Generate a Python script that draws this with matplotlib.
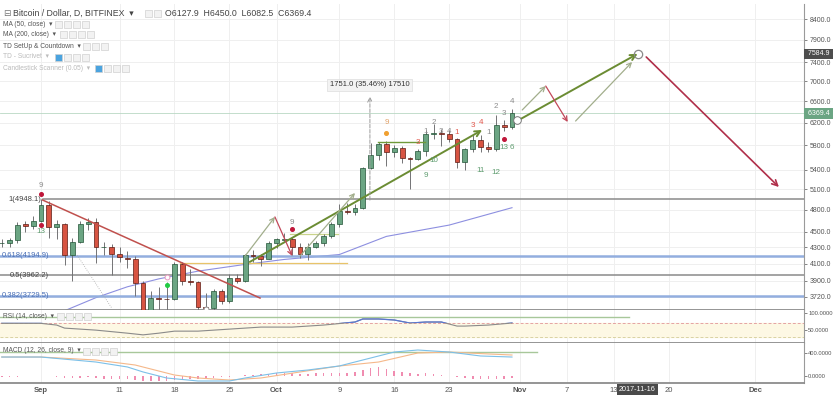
import matplotlib
matplotlib.use("Agg")
import matplotlib.pyplot as plt
from matplotlib.patches import Rectangle
import matplotlib.transforms as mtransforms
import numpy as np
import pandas as pd

plt.rcParams['font.family'] = ['Liberation Sans', 'DejaVu Sans']

# ---- daily candles, BTCUSD Bitfinex, 2017-08-27 .. 2017-10-31 ----
first_day = "2017-08-27"
opens = [4350, 4360, 4390, 4600, 4575,
         4650, 4870, 4560, 4600, 4200, 4370, 4610, 4625, 4300, 4310,
         4220, 4170, 4150, 3870, 3240, 3710, 3700, 3690, 4090, 3900,
         3880, 3610, 3600, 3780, 3670, 3930, 3890, 4200, 4190, 4160,
         4360, 4395, 4405, 4300, 4220, 4310, 4350, 4440, 4610, 4780,
         4770, 4820, 5430, 5640, 5830, 5690, 5750, 5590, 5570, 5700,
         6000, 6010, 5990, 5910, 5530, 5730, 5890, 5770, 5740, 6160, 6127.9]
highs = [4400, 4420, 4630, 4640, 4720,
         4948, 4930, 4660, 4620, 4420, 4650, 4680, 4680, 4370, 4340,
         4300, 4250, 4190, 3900, 3780, 3830, 3880, 4120, 4120, 4030,
         3900, 3760, 3800, 3800, 3980, 3980, 4220, 4270, 4220, 4380,
         4420, 4480, 4430, 4350, 4360, 4380, 4470, 4630, 4880, 4900,
         4880, 5450, 5840, 5850, 5880, 5800, 5780, 5610, 5730, 6070,
         6180, 6080, 6070, 5920, 5760, 5980, 5980, 5850, 6330, 6250, 6450.0]
lows = [4310, 4300, 4350, 4500, 4540,
        4630, 4420, 4400, 4080, 3890, 4360, 4520, 4110, 4200, 3970,
        4120, 4050, 3730, 3150, 2970, 3570, 3560, 3680, 3850, 3850,
        3560, 3560, 3580, 3640, 3650, 3870, 3880, 4120, 4070, 4150,
        4290, 4380, 4200, 4170, 4140, 4290, 4320, 4420, 4560, 4740,
        4730, 4810, 5410, 5560, 5460, 5600, 5500, 5100, 5550, 5620,
        5900, 5780, 5860, 5420, 5400, 5690, 5690, 5680, 5700, 6050, 6082.5]
closes = [4360, 4390, 4590, 4575, 4650,
          4870, 4560, 4600, 4200, 4370, 4610, 4625, 4300, 4310, 4220,
          4180, 4150, 3870, 3240, 3710, 3700, 3690, 4090, 3900, 3880,
          3610, 3600, 3780, 3670, 3930, 3890, 4200, 4190, 4160, 4360,
          4400, 4405, 4300, 4220, 4310, 4350, 4440, 4610, 4780, 4770,
          4820, 5430, 5640, 5820, 5690, 5750, 5590, 5570, 5700, 6000,
          6010, 5990, 5910, 5530, 5730, 5890, 5770, 5740, 6160, 6127.9, 6369.4]

# MA(50) readings
ma50_dates = ["2017-09-02", "2017-09-04", "2017-09-08", "2017-09-12", "2017-09-16",
              "2017-09-21", "2017-09-27", "2017-10-02", "2017-10-09", "2017-10-15",
              "2017-10-23", "2017-10-31"]
ma50_vals = [3450, 3570, 3710, 3830, 3920, 4010, 4090, 4150, 4210, 4440, 4590, 4830]

# fibonacci retracement
fib_levels = ["1", "0.618", "0.5", "0.382"]
fib_prices = [4948.1, 4194.9, 3962.2, 3729.5]

# drawings: (day0, price0, day1, price1), days counted from 2017-09-01
thick_green = [(26.6, 4120, 56.2, 6066), (61.1, 6265, 76.0, 7585)]
thin_green = [(26.0, 4192, 29.8, 4701), (33.0, 4192, 40.0, 5043),
              (61.3, 6433, 64.3, 6901), (68.1, 6228, 75.3, 7405)]
thin_red = [(29.8, 4701, 32.0, 4192), (64.3, 6901, 67.1, 6210)]
big_red = [(77.1, 7515, 94.0, 5132)]
down_trend = (0.2, 4940, 27.9, 3706)
green_hline = (42.9, 48.9, 5856)
yellow_hline = (17.7, 39.0, 4108)
olive_hline = (31.7, 37.8, 4471)
dotted_line = (4.6, 4204, 9.0, 3600)
measure = (41.9, 4939, 6690)
measure_text = "1751.0 (35.46%) 17510"
target = (76.0, 7585)

# TD setup / countdown numbers: (day, price, text)
td_grey = [(0, 5148, "9"), (32, 4619, "9"), (49, 6048, "1"), (50, 6192, "2"),
           (51, 6048, "3"), (52, 6048, "4"), (57, 6013, "1"), (58, 6490, "2"),
           (59, 6369, "3"), (60, 6586, "4")]
td_green = [(0, 4498, "13"), (50, 5539, "10"), (49, 5301, "9"), (56, 5379, "11"),
            (58, 5362, "12"), (59, 5771, "13"), (60, 5771, "6")]
td_red = [(48, 5856, "3"), (53, 6030, "1"), (55, 6138, "3"), (56, 6192, "4")]
td_orange = [(44, 6192, "9")]
red_dots = [(0, 5028), (0, 4591), (32, 4538), (59, 5909)]
orange_dots = [(44, 6013)]
green_dots = [(16, 3851)]
pink_rings = [(16, 3942)]
grey_rings = [(21, 3590)]
white_rings = [(60.6, 6246)]

# RSI(14) readings
rsi_dates = ["2017-08-27", "2017-09-01", "2017-09-03", "2017-09-04", "2017-09-08",
             "2017-09-12", "2017-09-14", "2017-09-16", "2017-09-18", "2017-09-21",
             "2017-09-25", "2017-09-29", "2017-10-03", "2017-10-07", "2017-10-11",
             "2017-10-12", "2017-10-14", "2017-10-16", "2017-10-18", "2017-10-20",
             "2017-10-22", "2017-10-24", "2017-10-25", "2017-10-28", "2017-10-31"]
rsi_vals = [69, 69, 64, 55, 49, 40, 35, 40, 46, 46, 52, 58, 58, 64, 73,
            82, 82, 79, 70, 73, 73, 61, 61, 64, 70]
rsi_trend = (-6, 74.9, 88)

# MACD(12, 26, close, 9) readings
macd_dates = ["2017-08-27", "2017-09-01", "2017-09-08", "2017-09-12", "2017-09-14",
              "2017-09-17", "2017-09-21", "2017-09-25", "2017-09-27", "2017-10-01",
              "2017-10-05", "2017-10-09", "2017-10-13", "2017-10-16", "2017-10-19",
              "2017-10-23", "2017-10-27", "2017-10-31"]
macd_vals = [330, 330, 243, 157, 70, -35, -87, -87, -35, 52, 104, 174, 313, 417,
             452, 417, 348, 330]
signal_dates = ["2017-08-27", "2017-09-01", "2017-09-08", "2017-09-13", "2017-09-18",
                "2017-09-21", "2017-09-25", "2017-09-29", "2017-10-04", "2017-10-09",
                "2017-10-14", "2017-10-19", "2017-10-23", "2017-10-28", "2017-10-31"]
signal_vals = [330, 330, 278, 191, 17, -35, -70, -35, 70, 174, 243, 400, 417, 383, 365]
hist_vals = [-10, -15, -10, -5, 0,
             5, -5, -10, -30, -35, -30, -25, -40, -45, -50,
             -55, -60, -70, -90, -90, -85, -80, -75, -60, -50,
             -45, -40, -30, -20, -15, -5, 10, 20, 30, 40,
             45, 50, 45, 40, 40, 45, 50, 55, 60, 60,
             70, 110, 140, 160, 120, 90, 70, 50, 40, 45,
             30, 15, 0, -25, -40, -45, -55, -60, -60, -50, -40]
macd_trend = (-6, 63.2, 417)

# axis ticks
price_ticks = [8400, 7900, 7400, 7000, 6600, 6200, 5800, 5400, 5100, 4800, 4500,
               4300, 4100, 3900, 3720]
date_ticks = ["2017-09-01", "2017-09-11", "2017-09-18", "2017-09-25", "2017-10-01",
              "2017-10-09", "2017-10-16", "2017-10-23", "2017-11-01", "2017-11-07",
              "2017-11-13", "2017-11-20", "2017-12-01"]
date_labels = ["Sep", "11", "18", "25", "Oct", "9", "16", "23", "Nov", "7", "13",
               "20", "Dec"]
cursor_date = "2017-11-16"
last_price_label = 7584.9

base = pd.Timestamp("2017-09-01")


def day(s):
    return (pd.Timestamp(s) - base) / pd.Timedelta(days=1)


W, H = 833, 395
fig = plt.figure(figsize=(W / 100, H / 100), dpi=100)
ax = fig.add_axes([0, 85 / H, 804 / W, 306 / H])
ax_rsi = fig.add_axes([0, 52 / H, 804 / W, 33 / H])
ax_macd = fig.add_axes([0, 12 / H, 804 / W, 40 / H])
xlim = (-41 / 7.85, (804 - 41) / 7.85)

GRID = '#efefef'
TXT = '#555555'
tick_x = [day(d) for d in date_ticks]

for a in (ax, ax_rsi, ax_macd):
    a.set_xlim(*xlim)
    for t in tick_x:
        a.axvline(t, color=GRID, lw=0.7, zorder=0)
    a.set_xticks(tick_x)
    a.tick_params(axis='x', length=0, labelbottom=False)
    for s in ('top', 'left'):
        a.spines[s].set_visible(False)
    a.spines['right'].set_color('#9a9a9a')
    a.spines['bottom'].set_color('#8c8c8c')
    a.spines['bottom'].set_linewidth(1.3)
    a.yaxis.tick_right()
    a.tick_params(axis='y', labelsize=5, colors=TXT, length=2, pad=2, width=0.5)

# ---- main price panel ----
ax.set_yscale('log')
ax.set_ylim(3578, 8778)
ax.yaxis.set_minor_locator(matplotlib.ticker.NullLocator())
ax.set_yticks(price_ticks)
ax.set_yticklabels([f"{p:.1f}" for p in price_ticks])
for p in price_ticks:
    ax.axhline(p, color=GRID, lw=0.7, zorder=0)

o = np.array(opens); hi = np.array(highs); lo = np.array(lows); c = np.array(closes)
xc = np.arange(len(o)) + day(first_day)
up = c >= o
ax.vlines(xc, lo, hi, color='#737375', lw=0.7, zorder=3)
ax.bar(xc, np.abs(c - o), bottom=np.minimum(o, c), width=0.62,
       color=np.where(up, '#6ba583', '#d75442'),
       edgecolor=np.where(up, '#225437', '#5b1a13'), linewidth=0.5, zorder=4)

# last price line
ax.axhline(closes[-1], color='#b9d8c4', lw=0.6, zorder=1)

# MA 50
ax.plot([day(d) for d in ma50_dates], ma50_vals, color='#8d8fe0', lw=0.8, zorder=2)

# fibonacci levels
for lvl, p in zip(fib_levels, fib_prices):
    blue = lvl in ("0.618", "0.382")
    col = '#93aedf' if blue else '#8a8a8a'
    x0 = 0.3 if lvl == "1" else xlim[0]
    ax.plot([x0, xlim[1]], [p, p], color=col, lw=1.8 if blue else 1.1, zorder=2)
    ax.text(0.0 if lvl == "1" else 1.0, p, f"{lvl}({p})", ha='right', va='center',
            fontsize=5.5, color='#4a6fb5' if blue else '#444444', zorder=6)

# other drawings
d0, p0, d1, p1 = down_trend
ax.plot([d0, d1], [p0, p1], color='#c0504d', lw=1.1, zorder=5)
d0, p0, d1, p1 = dotted_line
ax.plot([d0, d1], [p0, p1], color='#aaaaaa', lw=0.6, ls=':', zorder=2)
ax.plot(yellow_hline[:2], [yellow_hline[2]] * 2, color='#e8c46a', lw=0.9, zorder=2)
ax.plot(olive_hline[:2], [olive_hline[2]] * 2, color='#c9d38a', lw=0.9, zorder=2)
ax.plot(green_hline[:2], [green_hline[2]] * 2, color='#6f9a3a', lw=1.0, zorder=5)


def arrow(seg, color, lw, ms=8, ls='-'):
    ax.annotate("", xy=(seg[2], seg[3]), xytext=(seg[0], seg[1]),
                arrowprops=dict(arrowstyle='->', color=color, lw=lw, ls=ls,
                                shrinkA=0, shrinkB=0, mutation_scale=ms), zorder=6)


for s in thick_green:
    arrow(s, '#6b8c33', 1.4, 10)
for s in thin_green:
    arrow(s, '#a2ae8c', 0.9, 8)
for s in thin_red:
    arrow(s, '#c2485a', 0.9, 8)
for s in big_red:
    arrow(s, '#b02f4a', 1.2, 10)

md, mp0, mp1 = measure
arrow((md, mp0, md, mp1), '#9a9a9a', 0.7, 8, '--')
ax.text(md, mp1 * 1.025, measure_text, ha='center', va='bottom', fontsize=5.5,
        color='#333333', zorder=7,
        bbox=dict(boxstyle='square,pad=0.35', fc='#f3f3f3', ec='#dddddd', lw=0.5))
ax.plot(*target, 'o', mfc='none', mec='#8a8a8a', ms=6, mew=0.9, zorder=7)

for lst, col in ((td_grey, '#8c8c8c'), (td_green, '#5f9d70'), (td_red, '#e2574c'),
                 (td_orange, '#e0a26a')):
    for d, p, t in lst:
        ax.text(d, p, t, ha='center', va='center', fontsize=5.8, color=col, zorder=7)
for pts, col in ((red_dots, '#c0173a'), (orange_dots, '#f0a030'), (green_dots, '#22cc44')):
    ax.plot([q[0] for q in pts], [q[1] for q in pts], 'o', color=col, ms=2.6, zorder=7)
for pts, col, ms in ((pink_rings, '#e89ac0', 3.5), (grey_rings, '#999999', 3.5),
                     (white_rings, '#777777', 5.5)):
    ax.plot([q[0] for q in pts], [q[1] for q in pts], 'o', mfc='white', mec=col,
            ms=ms, mew=0.7, zorder=7)

# price labels on axis
ytrans = mtransforms.blended_transform_factory(ax.transAxes, ax.transData)
ax.text(1.002, last_price_label, f" {last_price_label:.1f} ", transform=ytrans,
        ha='left', va='center', fontsize=5, color='white', zorder=10, clip_on=False,
        bbox=dict(boxstyle='square,pad=0.25', fc='#4d4d4d', ec='none'))
ax.text(1.002, closes[-1], f" {closes[-1]:.1f} ", transform=ytrans,
        ha='left', va='center', fontsize=5, color='white', zorder=10, clip_on=False,
        bbox=dict(boxstyle='square,pad=0.25', fc='#6ba583', ec='none'))

# ---- RSI panel ----
ax_rsi.set_ylim(10.9, 108.6)
ax_rsi.axhspan(30, 70, color='#fdf8e4', zorder=0)
ax_rsi.axhline(70, color='#e5a3a3', lw=0.7, ls=(0, (3, 2)), zorder=1)
ax_rsi.axhline(30, color='#d9d2a4', lw=0.7, ls=(0, (3, 2)), zorder=1)
ax_rsi.plot(rsi_trend[:2], [rsi_trend[2]] * 2, color='#a8c79a', lw=1.0, zorder=2)
rx = [day(d) for d in rsi_dates]
ax_rsi.plot(rx, rsi_vals, color='#8a8a8a', lw=0.8, zorder=3)
hot, = ax_rsi.plot(rx, rsi_vals, color='#5a78d0', lw=0.9, zorder=4)
hot.set_clip_path(Rectangle((xlim[0], 71), xlim[1] - xlim[0], 50,
                            transform=ax_rsi.transData))
ax_rsi.set_yticks([100, 50])
ax_rsi.set_yticklabels(["100.0000", "50.0000"])
ax_rsi.tick_params(axis='y', labelsize=4.2, pad=1)

# ---- MACD panel ----
ax_macd.set_ylim(-122, 574)
ax_macd.plot(macd_trend[:2], [macd_trend[2]] * 2, color='#a8c79a', lw=1.0, zorder=2)
ax_macd.bar(xc, hist_vals, width=0.2, color='#f08cb0', zorder=2)
ax_macd.plot([day(d) for d in signal_dates], signal_vals, color='#f5b88a', lw=0.8, zorder=3)
ax_macd.plot([day(d) for d in macd_dates], macd_vals, color='#7cc0e8', lw=0.8, zorder=4)
ax_macd.set_yticks([400, 0])
ax_macd.set_yticklabels(["400.0000", "0.0000"])
ax_macd.tick_params(axis='y', labelsize=4.2, pad=1)
ax_macd.tick_params(axis='x', labelbottom=True, labelsize=5.5, colors=TXT, pad=3)
ax_macd.set_xticklabels(date_labels)
for lab in ax_macd.get_xticklabels():
    if not lab.get_text().isdigit():
        lab.set_fontweight('bold')
xtrans = mtransforms.blended_transform_factory(ax_macd.transData, ax_macd.transAxes)
ax_macd.text(day(cursor_date), -0.16, cursor_date, transform=xtrans, ha='center',
             va='center', fontsize=5.2, color='white', clip_on=False, zorder=10,
             bbox=dict(boxstyle='square,pad=0.3', fc='#4a4a4a', ec='none'))


# ---- legend texts and their little buttons ----
def ftext(x, y, s, **kw):
    fig.text(x / W, 1 - y / H, s, va='center', ha='left', **kw)


def buttons(x, y, n, first_blue=False):
    for k in range(n):
        blue = first_blue and k == 0
        fig.patches.append(Rectangle(((x + 9 * k) / W, 1 - (y + 3.5) / H), 7 / W, 7 / H,
                                     transform=fig.transFigure,
                                     fc='#4aa3df' if blue else '#f2f2f2',
                                     ec='#d0d0d0', lw=0.5))


ftext(3, 13, "\u229f", fontsize=6.5, color='#777777')
ftext(13, 13, "Bitcoin / Dollar, D, BITFINEX  \u25be", fontsize=6.3, color='#444444')
buttons(145, 13, 2)
ftext(165, 13, f"O{opens[-1]:.1f}  H{highs[-1]:.1f}  L{lows[-1]:.1f}  C{closes[-1]:.1f}",
      fontsize=6.3, color='#444444')

# (row y, name, colour, first button blue, buttons x, number of buttons)
legend_rows = [(24, "MA (50, close)", '#555555', False, 55, 4),
               (34, "MA (200, close)", '#555555', False, 60, 4),
               (46, "TD SetUp & Countdown", '#555555', False, 83, 3),
               (57, "TD - Sucrivet", '#bbbbbb', True, 55, 4),
               (68, "Candlestick Scanner (0.05)", '#bbbbbb', True, 95, 4),
               (316, "RSI (14, close)", '#555555', False, 57, 4),
               (351, "MACD (12, 26, close, 9)", '#555555', False, 83, 4)]
for y, name, col, blue, bx, n in legend_rows:
    ftext(3, y, name + "  \u25be", fontsize=4.8, color=col)
    buttons(bx, y, n, blue)

fig.savefig("out.png", dpi=100)
